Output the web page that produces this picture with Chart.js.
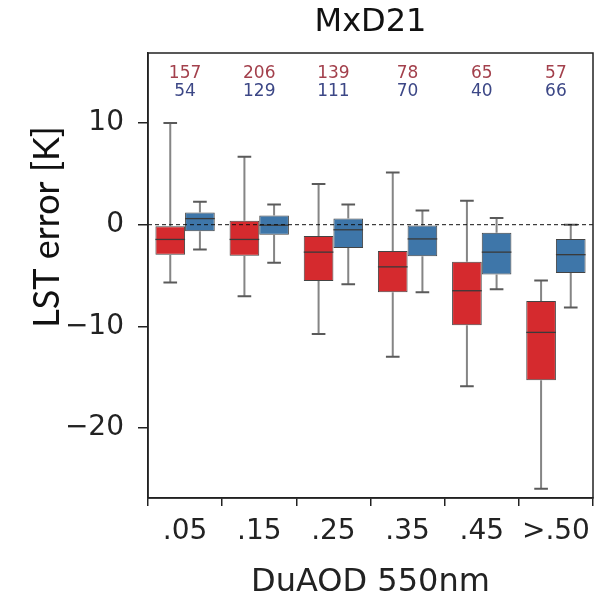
<!DOCTYPE html>
<html>
<head>
<meta charset="utf-8">
<title>MxD21</title>
<script src="https://cdn.jsdelivr.net/npm/chart.js@4.4.1/dist/chart.umd.min.js"></script>
<style>
  html, body { margin: 0; padding: 0; background: #fff; }
  canvas { display: block; }
</style>
</head>
<body>
<canvas id="box" width="612" height="602"></canvas>
<script>
// ===== Data =====
const categories = ['.05', '.15', '.25', '.35', '.45', '>.50'];
const yTicks = [-20, -10, 0, 10];

// sample counts per AOD bin
const redCounts = [157, 206, 139, 78, 65, 57];
const blueCounts = [54, 129, 111, 70, 40, 66];

// red boxes: whisker low, q1, median, q3, whisker high
const redLow = [-5.7, -7.05, -10.75, -13.0, -15.9, -26.0];
const redQ1 = [-2.95, -3.05, -5.55, -6.65, -9.9, -15.3];
const redMedian = [-1.45, -1.45, -2.7, -4.15, -6.5, -10.6];
const redQ3 = [-0.15, 0.4, -1.1, -2.6, -3.65, -7.5];
const redHigh = [10.0, 6.7, 4.0, 5.15, 2.35, -5.5];

// blue boxes
const blueLow = [-2.45, -3.75, -5.85, -6.65, -6.35, -8.15];
const blueQ1 = [-0.65, -1.0, -2.3, -3.1, -4.9, -4.75];
const blueMedian = [0.6, -0.05, -0.5, -1.4, -2.7, -2.95];
const blueQ3 = [1.2, 0.9, 0.6, 0.0, -0.8, -1.4];
const blueHigh = [2.25, 2.0, 2.0, 1.4, 0.65, 0.0];

const RED = '#d52a2e';
const BLUE = '#3e76a9';
const FONT = "'DejaVu Sans', sans-serif";

// ===== Whiskers, medians, zero line, frame, counts =====
const boxExtras = {
  id: 'boxExtras',
  afterDatasetsDraw(chart) {
    const { ctx, chartArea: a, scales: { y } } = chart;
    const stats = [
      { lo: redLow, med: redMedian, hi: redHigh },
      { lo: blueLow, med: blueMedian, hi: blueHigh }
    ];
    ctx.save();
    stats.forEach((s, di) => {
      chart.getDatasetMeta(di).data.forEach((bar, i) => {
        const top = Math.min(bar.y, bar.base);
        const bot = Math.max(bar.y, bar.base);
        const yHi = y.getPixelForValue(s.hi[i]);
        const yLo = y.getPixelForValue(s.lo[i]);
        const half = bar.width / 2;
        const cap = bar.width * 0.23;

        ctx.strokeStyle = '#858585';
        ctx.lineWidth = 2;
        ctx.beginPath();
        ctx.moveTo(bar.x, top); ctx.lineTo(bar.x, yHi);
        ctx.moveTo(bar.x, bot); ctx.lineTo(bar.x, yLo);
        ctx.stroke();

        ctx.strokeStyle = '#5a5a5a';
        ctx.beginPath();
        ctx.moveTo(bar.x - cap, yHi); ctx.lineTo(bar.x + cap, yHi);
        ctx.moveTo(bar.x - cap, yLo); ctx.lineTo(bar.x + cap, yLo);
        ctx.stroke();

        const yMed = y.getPixelForValue(s.med[i]);
        ctx.strokeStyle = '#3a3a3a';
        ctx.lineWidth = 1.3;
        ctx.beginPath();
        ctx.moveTo(bar.x - half, yMed); ctx.lineTo(bar.x + half, yMed);
        ctx.stroke();
      });
    });

    // dashed zero reference
    const y0 = y.getPixelForValue(0);
    ctx.strokeStyle = '#111';
    ctx.lineWidth = 1;
    ctx.setLineDash([4, 3]);
    ctx.beginPath();
    ctx.moveTo(a.left, y0); ctx.lineTo(a.right, y0);
    ctx.stroke();
    ctx.setLineDash([]);

    // frame
    ctx.strokeStyle = '#222';
    ctx.lineWidth = 1.5;
    ctx.strokeRect(a.left, a.top, a.right - a.left, a.bottom - a.top);

    // sample counts above each pair
    const x = chart.scales.x;
    ctx.font = '17px ' + FONT;
    ctx.textAlign = 'center';
    ctx.textBaseline = 'middle';
    categories.forEach((c, i) => {
      const px = x.getPixelForValue(i);
      ctx.fillStyle = '#a3404c';
      ctx.fillText(String(redCounts[i]), px, 74);
      ctx.fillStyle = '#3c4786';
      ctx.fillText(String(blueCounts[i]), px, 92);
    });
    ctx.restore();
  },
  afterDraw(chart) {
    const { ctx, chartArea: a } = chart;
    ctx.save();
    ctx.fillStyle = '#111';
    ctx.textAlign = 'center';
    ctx.textBaseline = 'middle';

    // panel title, centred over the plot box
    ctx.font = '32px ' + FONT;
    ctx.fillText('MxD21', (a.left + a.right) / 2, 23);

    // y axis title
    ctx.translate(47, 227);
    ctx.rotate(-Math.PI / 2);
    ctx.font = "36px Lato, sans-serif";
    ctx.fillText('LST error [K]', 0, 0);
    ctx.restore();
  }
};

// ===== Chart =====
new Chart(document.getElementById('box'), {
  type: 'bar',
  data: {
    labels: categories,
    datasets: [
      {
        data: redQ1.map((v, i) => [v, redQ3[i]]),
        backgroundColor: RED,
        borderColor: '#444',
        borderWidth: 1,
        borderSkipped: false
      },
      {
        data: blueQ1.map((v, i) => [v, blueQ3[i]]),
        backgroundColor: BLUE,
        borderColor: '#444',
        borderWidth: 1,
        borderSkipped: false
      }
    ]
  },
  options: {
    responsive: false,
    animation: false,
    layout: { padding: { left: 0, right: 19, top: 53, bottom: 0 } },
    datasets: { bar: { categoryPercentage: 0.8, barPercentage: 1.0 } },
    plugins: {
      legend: { display: false },
      tooltip: { enabled: false },
      title: { display: false }
    },
    scales: {
      x: {
        afterFit: s => { s.height = 104; },
        grid: { drawOnChartArea: false, drawTicks: true, tickLength: 8, color: '#222', lineWidth: 1.5 },
        border: { display: true, color: '#222', width: 1.5 },
        ticks: { color: '#222', font: { family: FONT, size: 28 }, padding: 9 },
        title: {
          display: true,
          text: 'DuAOD 550nm',
          color: '#222',
          font: { family: FONT, size: 32 },
          padding: { top: 0, bottom: 0 }
        }
      },
      y: {
        min: -26.9,
        max: 16.9,
        afterFit: s => { s.width = 148; },
        afterBuildTicks: s => { s.ticks = yTicks.map(v => ({ value: v })); },
        grid: { drawOnChartArea: false, drawTicks: true, tickLength: 10, color: '#222', lineWidth: 1.5 },
        border: { display: true, color: '#222', width: 1.5 },
        ticks: {
          color: '#222',
          font: { family: FONT, size: 28 },
          padding: 14,
          callback: v => (v < 0 ? '\u2212' + Math.abs(v) : String(v))
        }
      }
    }
  },
  plugins: [boxExtras]
});
</script>
</body>
</html>
